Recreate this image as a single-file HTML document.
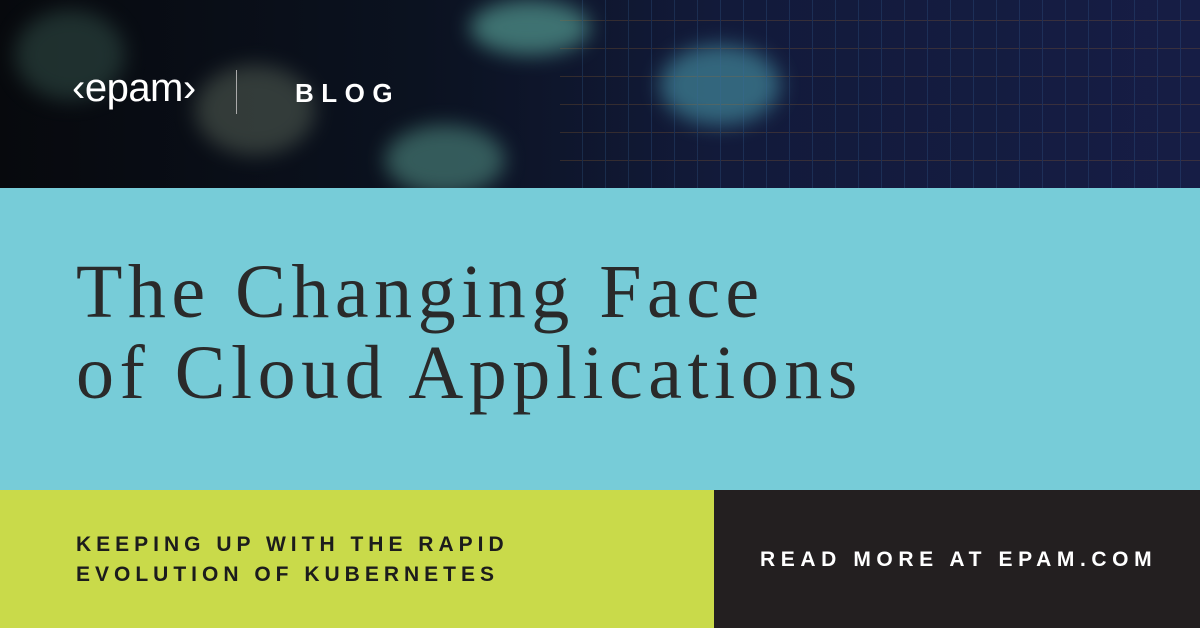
<!DOCTYPE html>
<html><head><style>
*{margin:0;padding:0;box-sizing:border-box}
body{width:1200px;height:628px;overflow:hidden;position:relative;background:#000}
.top{position:absolute;left:0;top:0;width:1200px;height:188px;overflow:hidden;
background:linear-gradient(90deg,#07090d 0%,#0b1220 35%,#121a3a 60%,#161d45 100%)}
.blob{position:absolute;border-radius:50%;filter:blur(10px)}
.band{position:absolute;left:0;top:188px;width:1200px;height:302px;background:#77ccd8}
.title{position:absolute;left:76px;top:252px;font-family:"Liberation Serif",serif;font-size:76px;line-height:81px;color:#2a2a2a;letter-spacing:5.5px}
.lime{position:absolute;left:0;top:490px;width:714px;height:138px;background:#c9da4a}
.dark{position:absolute;left:714px;top:490px;width:486px;height:138px;background:#231f20}
.sub{position:absolute;font-family:"Liberation Sans",sans-serif;font-weight:bold;font-size:21px;line-height:30px}
</style></head><body>
<div class="top">
 <div class="blob" style="left:15px;top:10px;width:110px;height:90px;background:#2f4a44;opacity:.6"></div>
 <div class="blob" style="left:195px;top:65px;width:120px;height:90px;background:#4f5a50;opacity:.6"></div>
 <div class="blob" style="left:385px;top:125px;width:120px;height:70px;background:#3f6e6a;opacity:.8"></div>
 <div class="blob" style="left:470px;top:0px;width:120px;height:55px;background:#4b8a84;opacity:.8"></div>
 <div class="blob" style="left:660px;top:45px;width:120px;height:80px;background:#3c7a8e;opacity:.8"></div>
 <div style="position:absolute;left:560px;top:0;width:640px;height:188px;opacity:.25;background:repeating-linear-gradient(90deg,transparent 0 22px,#3a6aa0 22px 23px),repeating-linear-gradient(0deg,transparent 0 27px,#a06a30 27px 28px)"></div>
 <div style="position:absolute;left:72px;top:66px;font-family:'Liberation Sans',sans-serif;font-size:40px;color:#fff;letter-spacing:-0.5px">‹epam›</div>
 <div style="position:absolute;left:236px;top:70px;width:1px;height:44px;background:#aaa"></div>
 <div style="position:absolute;left:295px;top:78px;font-family:'Liberation Sans',sans-serif;font-weight:bold;font-size:26px;color:#fff;letter-spacing:7.5px">BLOG</div>
</div>
<div class="band"></div>
<div class="title">The Changing Face<br>of Cloud Applications</div>
<div class="lime"></div>
<div class="dark"></div>
<div class="sub" style="left:76px;top:530px;color:#1c1c1c;letter-spacing:5px">KEEPING UP WITH THE RAPID<br>EVOLUTION OF KUBERNETES</div>
<div class="sub" style="left:760px;top:545px;color:#fff;letter-spacing:5.6px">READ MORE AT EPAM.COM</div>
</body></html>
